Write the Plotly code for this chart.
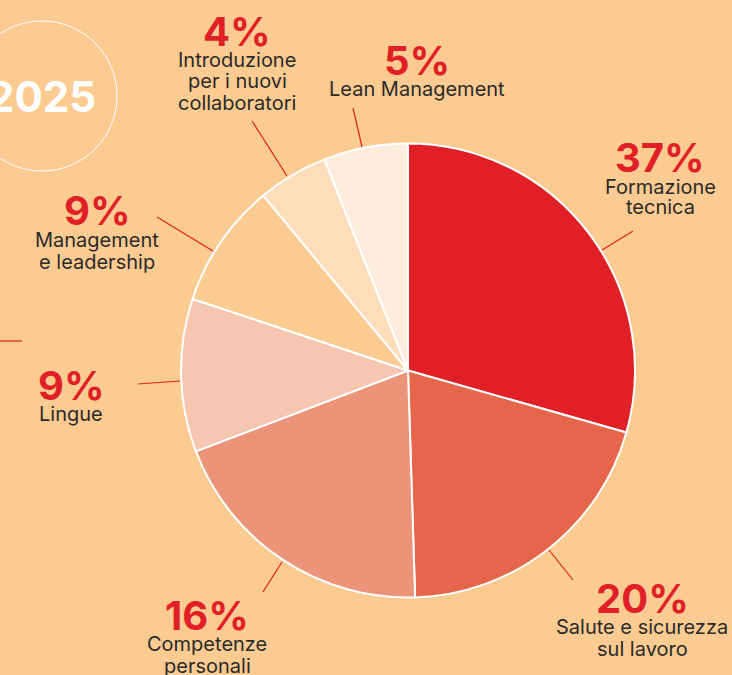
import plotly.graph_objects as go

# ---------------- data ----------------
categories = ["Formazione tecnica", "Salute e sicurezza sul lavoro", "Competenze personali",
              "Lingue", "Management e leadership", "Introduzione per i nuovi collaboratori",
              "Lean Management"]
slice_values = [29.4, 20.1, 19.7, 10.9, 8.9, 5.0, 6.0]        # drawn slice sizes
percent_labels = ["37%", "20%", "16%", "9%", "9%", "4%", "5%"]  # printed percentages
label_lines = [["Formazione", "tecnica"],
               ["Salute e sicurezza", "sul lavoro"],
               ["Competenze", "personali"],
               ["Lingue"],
               ["Management", "e leadership"],
               ["Introduzione", "per i nuovi", "collaboratori"],
               ["Lean Management"]]
year_label = "2025"

# ---------------- styles / layout ----------------
W, H = 732, 675
BG = "#FCCB91"
colors = ["#E01F26", "#E5664A", "#EC9479", "#F6C6B1", "#FCCB91", "#FDDDBA", "#FEEDDC"]
RED = "#E01F26"
TXT = "#2A2A2A"

cx, cy, R = 408, 370.5, 227

def px(x):
    return x / W

def py(y):
    return 1 - y / H

# label block layout: (center x, percent center y, first text line y, line step)
label_pos = [(660, 157, 187, 20),
             (642, 598, 627, 22),
             (207, 615, 644, 22),
             (71, 385, 414, 21),
             (97, 211, 240, 22),
             (237, 31, 60, 21.5),
             (417, 61, 89, 21)]
leaders = [((602, 250), (633, 231)),
           ((549, 550), (573, 580)),
           ((282, 562), (263, 592)),
           ((138, 384), (180, 381)),
           ((157, 217), (213, 251)),
           ((252, 121), (287, 176)),
           ((353, 108), (362, 147)),
           ((0, 341), (22, 341))]

fig = go.Figure(go.Pie(
    labels=categories,
    values=slice_values,
    sort=False,
    direction="clockwise",
    rotation=0,
    marker=dict(colors=colors, line=dict(color="white", width=2)),
    textinfo="none",
    hoverinfo="label",
    showlegend=False,
    domain=dict(x=[px(cx - R), px(cx + R)], y=[py(cy + R), py(cy - R)]),
))

annotations = []
font_family = "Inter, Liberation Sans, Arial, sans-serif"
for pct, lines, (lx, pyc, ly0, step) in zip(percent_labels, label_lines, label_pos):
    annotations.append(dict(x=px(lx), y=py(pyc), xref="paper", yref="paper",
                            text=f"<b>{pct}</b>", showarrow=False,
                            xanchor="center", yanchor="middle", borderpad=0,
                            font=dict(family=font_family, size=40, color=RED)))
    for i, line in enumerate(lines):
        annotations.append(dict(x=px(lx), y=py(ly0 + i * step), xref="paper", yref="paper",
                                text=line, showarrow=False,
                                xanchor="center", yanchor="middle", borderpad=0,
                                font=dict(family=font_family, size=20, color=TXT)))

annotations.append(dict(x=px(42), y=py(97), xref="paper", yref="paper",
                        text=f"<b>{year_label}</b>", showarrow=False,
                        xanchor="center", yanchor="middle",
                        font=dict(family=font_family, size=42, color="white")))

shapes = []
for (x0, y0), (x1, y1) in leaders:
    shapes.append(dict(type="line", xref="paper", yref="paper",
                       x0=px(x0), y0=py(y0), x1=px(x1), y1=py(y1),
                       line=dict(color=RED, width=1.2)))
shapes.append(dict(type="circle", xref="paper", yref="paper",
                   x0=px(42 - 75), x1=px(42 + 75), y0=py(96 + 75), y1=py(96 - 75),
                   line=dict(color="white", width=1)))

fig.update_layout(
    width=W, height=H,
    margin=dict(l=0, r=0, t=0, b=0),
    paper_bgcolor=BG, plot_bgcolor=BG,
    annotations=annotations,
    shapes=shapes,
)

fig.write_html("out.html", config={"displayModeBar": False},
               post_script="document.body.style.margin='0';document.body.style.background='%s';" % BG)
